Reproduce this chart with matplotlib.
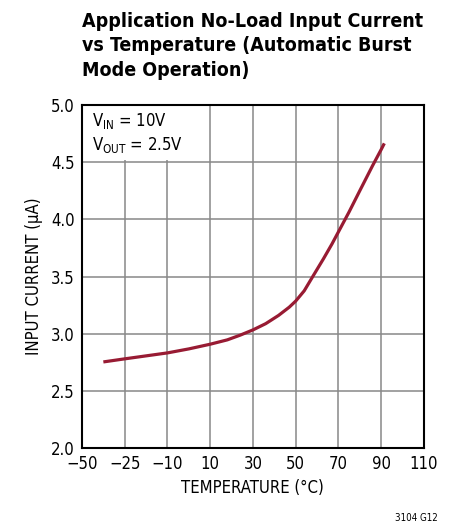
import matplotlib
matplotlib.use('Agg')
import matplotlib.pyplot as plt
from matplotlib.patches import Rectangle

# data
temp = [-40, -30, -20, -10, 0, 10, 18, 24, 30, 36, 42, 47, 50, 54, 58, 63, 67, 70, 75, 80, 86, 90, 91.5]
current = [2.753, 2.78, 2.806, 2.832, 2.867, 2.908, 2.946, 2.987, 3.033, 3.088, 3.16, 3.232,
           3.285, 3.375, 3.5, 3.655, 3.785, 3.89, 4.065, 4.25, 4.47, 4.61, 4.665]
xticks = [-50, -30, -10, 10, 30, 50, 70, 90, 110]
xtick_labels = ['\u221250', '\u221225', '\u221210', '10', '30', '50', '70', '90', '110']
yticks = [2.0, 2.5, 3.0, 3.5, 4.0, 4.5, 5.0]

plt.rcParams['font.family'] = ['DejaVu Sans']
plt.rcParams['font.stretch'] = 'condensed'
plt.rcParams['mathtext.fontset'] = 'custom'
plt.rcParams['mathtext.rm'] = 'DejaVu Sans:stretch=condensed'

fig = plt.figure(figsize=(4.49, 5.28), dpi=100)
ax = fig.add_axes([0.1826, 0.1515, 0.7614, 0.6495])

ax.plot(temp, current, color='#981b33', lw=2.3, solid_capstyle='butt', zorder=4)

ax.set_xlim(-50, 110)
ax.set_ylim(2.0, 5.0)
ax.set_xticks(xticks)
ax.set_xticklabels(xtick_labels)
ax.set_yticks(yticks)
ax.set_yticklabels([f'{v:.1f}' for v in yticks])
ax.tick_params(length=0, labelsize=12, pad=5)
ax.grid(True, color='#888888', lw=1.1)
for s in ax.spines.values():
    s.set_linewidth(1.5)
    s.set_zorder(5)

ax.set_xlabel('TEMPERATURE (°C)', fontsize=12, labelpad=4)
ax.set_ylabel('INPUT CURRENT (µA)', fontsize=12, labelpad=6)

# white box over the grid behind the conditions text
ax.add_patch(Rectangle((-50, 4.52), 55, 0.48, fc='white', ec='none', zorder=3))
ax.text(-45.5, 4.95, 'V$_{\\mathrm{IN}}$ = 10V\nV$_{\\mathrm{OUT}}$ = 2.5V', fontsize=12,
        va='top', ha='left', linespacing=1.25, zorder=4)

fig.text(0.183, 0.978, 'Application No-Load Input Current\nvs Temperature (Automatic Burst\nMode Operation)',
         fontsize=14, fontweight='bold', va='top', ha='left', linespacing=1.38)
fig.text(0.975, 0.01, '3104 G12', fontsize=7, ha='right', va='bottom')

plt.savefig('out.png', dpi=100)
